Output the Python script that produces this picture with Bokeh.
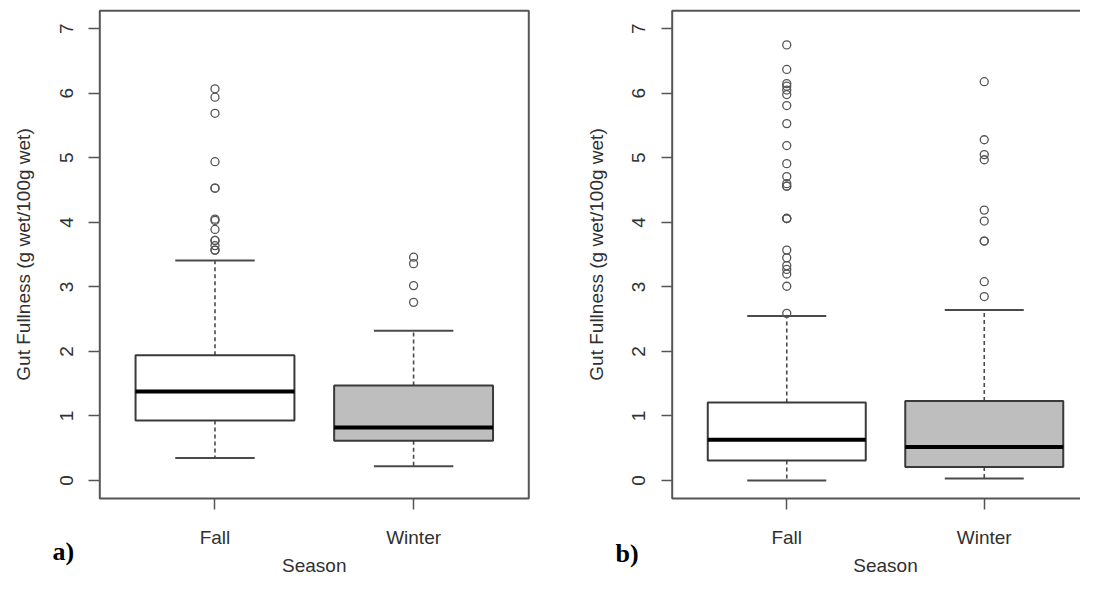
import math
from bokeh.plotting import figure
from bokeh.layouts import row
from bokeh.models import ColumnDataSource, FixedTicker, Range1d, Label, BoxAnnotation
from bokeh.embed import file_html
from bokeh.resources import INLINE

# ---------------- data ----------------
seasons = ["Fall", "Winter"]
season_pos = [1, 2]
box_fill = ["white", "#bebebe"]
y_ticks = [0, 1, 2, 3, 4, 5, 6, 7]
y_title = "Gut Fullness (g wet/100g wet)"
x_title = "Season"

# panel a)
a_lower_whisker = [0.35, 0.22]
a_q1 = [0.93, 0.615]
a_median = [1.38, 0.82]
a_q3 = [1.94, 1.47]
a_upper_whisker = [3.41, 2.32]
a_out_fall = [6.07, 5.94, 5.69, 4.94, 4.53, 4.53, 4.05, 4.03, 3.89, 3.72, 3.72, 3.64, 3.57, 3.57]
a_out_winter = [3.46, 3.36, 3.02, 2.76]

# panel b)
b_lower_whisker = [0.0, 0.03]
b_q1 = [0.31, 0.21]
b_median = [0.63, 0.52]
b_q3 = [1.21, 1.23]
b_upper_whisker = [2.55, 2.64]
b_out_fall = [6.75, 6.37, 6.15, 6.11, 6.05, 5.98, 5.81, 5.53, 5.19, 4.91, 4.71, 4.60,
              4.56, 4.56, 4.06, 4.06, 4.06, 3.57, 3.45, 3.33, 3.27, 3.20, 3.01, 2.59]
b_out_winter = [6.18, 5.28, 5.05, 4.97, 4.19, 4.02, 3.71, 3.71, 3.08, 2.85]

# ---------------- style ----------------
FONT = "Liberation Sans"
TXT = "#303030"
LINE = "#4a4a4a"
BOX_W = 0.8
X_LIM = (0.42, 2.58)     # plotting region of each panel (R style)
Y_LIM = (-0.28, 7.28)
H = 576
Y_TOP, Y_BOT = 7.438, -1.488   # canvas extent in data units


def make_panel(tag, tag_x, tag_y, lo, q1, med, q3, hi, out_f, out_w, width, x_left, x_right):
    p = figure(width=width, height=H, output_backend="svg", toolbar_location=None,
               x_range=Range1d(x_left, x_right), y_range=Range1d(Y_BOT, Y_TOP),
               min_border_left=0, min_border_right=0,
               min_border_top=0, min_border_bottom=0)
    p.background_fill_color = "white"
    p.border_fill_color = "white"
    p.outline_line_color = None
    p.xgrid.visible = False
    p.ygrid.visible = False

    # panel box
    p.add_layout(BoxAnnotation(left=X_LIM[0], right=X_LIM[1], bottom=Y_LIM[0], top=Y_LIM[1],
                               fill_alpha=0, line_color="#555555", line_width=2,
                               line_alpha=1))

    src = ColumnDataSource(dict(
        x=season_pos, lo=lo, q1=q1, med=med, q3=q3, hi=hi, fill=box_fill,
        xl=[v - BOX_W / 2 for v in season_pos], xr=[v + BOX_W / 2 for v in season_pos],
        cl=[v - BOX_W / 4 for v in season_pos], cr=[v + BOX_W / 4 for v in season_pos],
    ))
    # whiskers (dashed)
    p.segment(x0="x", y0="q3", x1="x", y1="hi", source=src, line_color=LINE,
              line_width=1.6, line_dash="4 3")
    p.segment(x0="x", y0="q1", x1="x", y1="lo", source=src, line_color=LINE,
              line_width=1.6, line_dash="4 3")
    # caps
    p.segment(x0="cl", y0="hi", x1="cr", y1="hi", source=src, line_color=LINE, line_width=2)
    p.segment(x0="cl", y0="lo", x1="cr", y1="lo", source=src, line_color=LINE, line_width=2)
    # boxes
    p.vbar(x="x", width=BOX_W, bottom="q1", top="q3", source=src, fill_color="fill",
           line_color="#3a3a3a", line_width=2)
    # medians
    p.segment(x0="xl", y0="med", x1="xr", y1="med", source=src, line_color="black",
              line_width=4)
    # outliers
    ox = [season_pos[0]] * len(out_f) + [season_pos[1]] * len(out_w)
    oy = list(out_f) + list(out_w)
    p.scatter(ox, oy, marker="circle", size=8, fill_color=None, line_color="#555555",
              line_width=1.3)

    # axes, pinned to the panel box edges
    for ax in (p.xaxis[0], p.yaxis[0]):
        ax.axis_line_color = None
        ax.major_tick_line_color = "#555555"
        ax.major_tick_line_width = 1.5
        ax.major_tick_in = 0
        ax.major_tick_out = 11
        ax.minor_tick_line_color = None
        ax.major_label_text_font = FONT
        ax.major_label_text_font_size = "19px"
        ax.major_label_text_color = TXT
    p.xaxis.fixed_location = Y_LIM[0]
    p.xaxis.bounds = X_LIM
    p.xaxis.ticker = FixedTicker(ticks=season_pos)
    p.xaxis.major_label_overrides = {pos: name for pos, name in zip(season_pos, seasons)}
    p.xaxis.major_label_standoff = 17

    p.yaxis.fixed_location = X_LIM[0]
    p.yaxis.bounds = Y_LIM
    p.yaxis.ticker = FixedTicker(ticks=y_ticks)
    p.yaxis.major_label_orientation = "vertical"
    p.yaxis.major_label_standoff = 16
    p.yaxis.axis_label = y_title
    p.yaxis.axis_label_text_font = FONT
    p.yaxis.axis_label_text_font_size = "19px"
    p.yaxis.axis_label_text_font_style = "normal"
    p.yaxis.axis_label_text_color = TXT
    p.yaxis.axis_label_standoff = 23

    # x title and panel tag
    p.add_layout(Label(x=sum(X_LIM) / 2, y=-1.32, text=x_title, text_align="center",
                       text_baseline="alphabetic", text_font=FONT,
                       text_font_size="19px", text_color=TXT))
    p.add_layout(Label(x=tag_x, y=tag_y, text=tag, text_align="left",
                       text_baseline="alphabetic", text_font="Liberation Serif",
                       text_font_style="bold", text_font_size="26px", text_color="black"))
    return p


pa = make_panel("a)", 0.182, -1.10, a_lower_whisker, a_q1, a_median, a_q3, a_upper_whisker,
                a_out_fall, a_out_winter, 560, -0.08, -0.08 + 560 / 198.6)
pb = make_panel("b)", 0.133, -1.13, b_lower_whisker, b_q1, b_median, b_q3, b_upper_whisker,
                b_out_fall, b_out_winter, 520, -0.1456, -0.1456 + 520 / 197.5)

layout = row(pa, pb)
open("out.html", "w").write(file_html(layout, INLINE))
